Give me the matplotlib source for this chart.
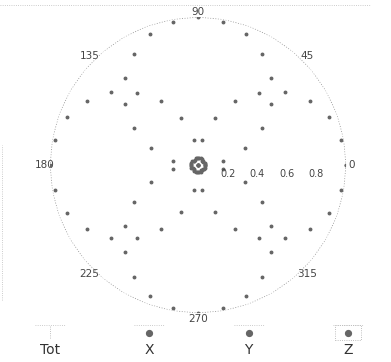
import numpy as np
import matplotlib
matplotlib.use("Agg")
import matplotlib.pyplot as plt
from matplotlib.lines import Line2D
from matplotlib.patches import Rectangle

# angles of the sampled directions (deg)
angles = list(range(0, 360, 10))

# normalised field components per direction
x_vals = [1.00, 0.98, 0.94, 0.87, 0.77, 0.64, 0.50, 0.34, 0.17,
          0.00, 0.17, 0.34, 0.50, 0.64, 0.77, 0.87, 0.94, 0.98,
          1.00, 0.98, 0.94, 0.87, 0.77, 0.64, 0.50, 0.34, 0.17,
          0.00, 0.17, 0.34, 0.50, 0.64, 0.77, 0.87, 0.94, 0.98]
y_vals = [0.00, 0.17, 0.34, 0.50, 0.64, 0.77, 0.87, 0.94, 0.98,
          1.00, 0.98, 0.94, 0.87, 0.77, 0.64, 0.50, 0.34, 0.17,
          0.00, 0.17, 0.34, 0.50, 0.64, 0.77, 0.87, 0.94, 0.98,
          1.00, 0.98, 0.94, 0.87, 0.77, 0.64, 0.50, 0.34, 0.17]
z_vals = [0.05, 0.05, 0.05, 0.04, 0.04, 0.04, 0.05, 0.05, 0.05,
          0.05, 0.05, 0.05, 0.04, 0.04, 0.04, 0.05, 0.05, 0.05,
          0.05, 0.05, 0.05, 0.04, 0.04, 0.04, 0.05, 0.05, 0.05,
          0.05, 0.05, 0.05, 0.04, 0.04, 0.04, 0.05, 0.05, 0.05]
tot_vals = [1.00] * 36

theta_labels = ["0", "45", "90", "135", "180", "225", "270", "315"]
r_labels = ["0.2", "0.4", "0.6", "0.8"]
legend_names = ["Tot", "X", "Y", "Z"]

txt_col = "#444444"
mk_col = "#666666"

fig = plt.figure(figsize=(3.91, 3.62), dpi=100)
ax = fig.add_axes([0.128, 0.135, 0.757, 0.818], projection="polar")

th = np.deg2rad(angles + [360])
close = lambda v: v + [v[0]]

ax.plot(th, close(tot_vals), color="#999999", lw=0.7, ls=":")
ax.plot(th, close(x_vals), ls="none", marker="o", ms=1.8, color=mk_col)
ax.plot(th, close(y_vals), ls="none", marker="o", ms=1.8, color=mk_col)
ax.plot(th, close(z_vals), ls="none", marker="o", ms=1.8, color=mk_col)

ax.set_ylim(0, 1)
ax.spines["polar"].set_visible(False)
ax.grid(False)
ax.set_thetagrids(range(0, 360, 45), theta_labels, fontsize=7.5, color=txt_col)
ax.tick_params(axis="x", pad=-3, length=0)
ax.set_yticks([0.2, 0.4, 0.6, 0.8])
ax.set_yticklabels([])
ax.tick_params(axis="y", length=0)
for v, s in zip([0.2, 0.4, 0.6, 0.8], r_labels):
    ax.annotate(s, (0, v), xytext=(0, -6.5), textcoords="offset points",
                ha="center", va="center", fontsize=7, color=txt_col)

# selector row along the bottom
lax = fig.add_axes([0, 0, 1, 0.12])
lax.set_xlim(-0.504, 3.434)
lax.set_ylim(0, 1)
lax.axis("off")
for i, name in enumerate(legend_names):
    lax.text(i, 0.28, name, ha="center", va="center", fontsize=10, color="#333333")
    if name == "Tot":
        lax.plot([i, i], [0.55, 0.85], color="#aaaaaa", lw=0.6, ls=":")
    else:
        lax.plot([i], [0.66], marker="o", ms=4.2, color=mk_col, ls="none")
    lax.plot([i - 0.15, i + 0.15], [0.86, 0.86], color="#bbbbbb", lw=0.6, ls=":")
lax.add_patch(Rectangle((3 - 0.13, 0.5), 0.26, 0.36, fill=False,
                        ec="#aaaaaa", lw=0.6, ls=":"))

# faint frame edges
fig.add_artist(Line2D([0, 0.95], [0.986, 0.986], color="#bbbbbb", lw=0.6, ls=":"))
fig.add_artist(Line2D([0.005, 0.005], [0.17, 0.6], color="#bbbbbb", lw=0.6, ls=":"))

fig.savefig("out.png", dpi=100, facecolor="white")
